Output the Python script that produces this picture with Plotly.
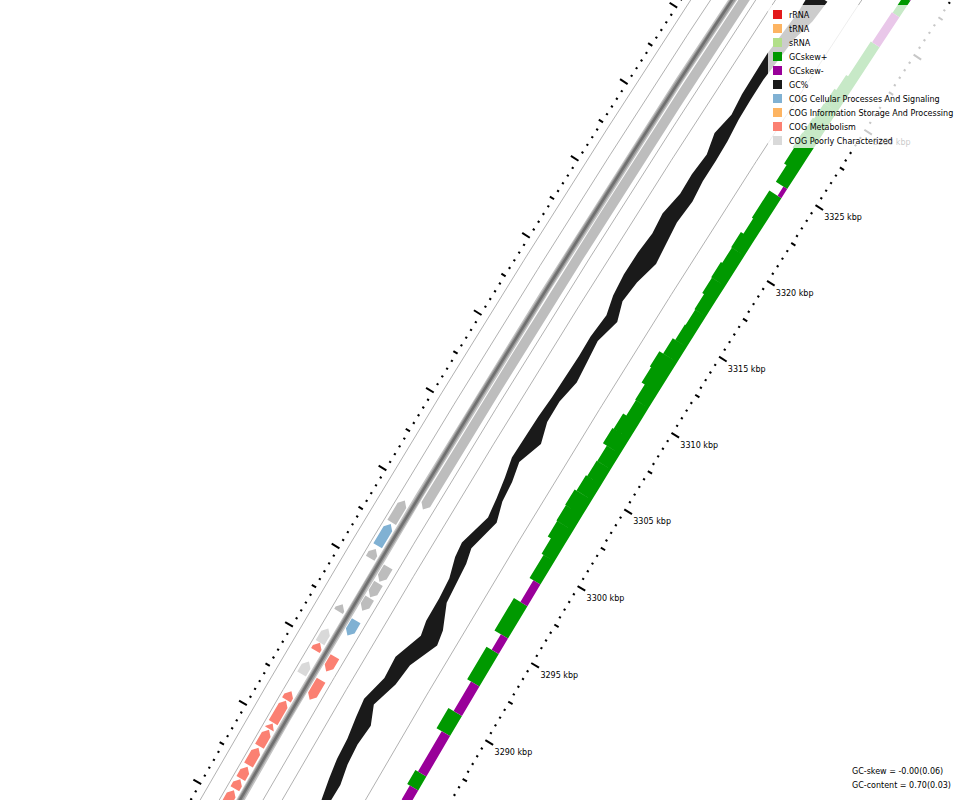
import numpy as np
import plotly.graph_objects as go

# ---------------- data ----------------
# ruler (kbp)
label_kbp = [3290, 3295, 3300, 3305, 3310, 3315, 3320, 3325, 3330]
label_text = ["3290 kbp", "3295 kbp", "3300 kbp", "3305 kbp", "3310 kbp",
              "3315 kbp", "3320 kbp", "3325 kbp", "3330 kbp"]
MAJOR_STEP, MID_STEP, MINOR_STEP = 5.0, 2.5, 0.5
RULER_FROM, RULER_TO = 3270.0, 3345.0

# genes: start, end (kbp), strand, COG class
feat_start = [3279.3, 3280.7, 3281.35, 3282.2, 3283.4, 3284.5, 3284.9, 3286.35,
              3288.0, 3289.5, 3290.0, 3292.0, 3295.4, 3296.2, 3297.7,
              3287.0, 3288.8, 3291.1, 3292.7, 3293.55, 3294.55, 3299.2]
feat_end = [3280.6, 3281.3, 3282.1, 3283.3, 3284.45, 3284.85, 3286.3, 3286.9,
            3288.8, 3290.0, 3290.9, 3292.45, 3296.0, 3297.6, 3299.1,
            3288.25, 3289.75, 3292.05, 3293.5, 3294.45, 3295.5, 3345.0]
feat_strand = [1, 1, 1, 1, 1, 1, 1, 1, 1, 1, 1, 1, 1, 1, 1,
               -1, -1, -1, -1, -1, -1, -1]
feat_cog = ["M", "M", "M", "M", "M", "M", "M", "M",
            "S", "M", "S", "-", "-", "C", "-",
            "M", "M", "C", "-", "-", "-", "-"]

# GC content (fraction): position (kbp), window max, window min
gc_pos = [3282.56, 3283.79, 3284.96, 3286.20, 3287.47, 3288.57, 3290.13, 3291.45,
          3293.16, 3294.03, 3295.46, 3296.70, 3297.87, 3298.75, 3300.68, 3301.84,
          3303.05, 3304.20, 3305.67, 3306.89, 3308.21, 3309.61, 3310.90, 3312.17,
          3313.63, 3314.75, 3316.06, 3317.49, 3318.80, 3320.04, 3321.48, 3322.74,
          3324.10, 3325.33, 3326.68, 3327.95, 3329.26, 3330.62, 3332.01, 3333.47,
          3334.81]
gc_max = [0.708, 0.725, 0.738, 0.743, 0.757, 0.767, 0.738, 0.743, 0.697, 0.710,
          0.711, 0.718, 0.743, 0.750, 0.711, 0.722, 0.737, 0.756, 0.753, 0.751,
          0.745, 0.743, 0.740, 0.742, 0.733, 0.753, 0.762, 0.761, 0.753, 0.762,
          0.744, 0.747, 0.739, 0.760, 0.742, 0.752, 0.755, 0.756, 0.749, 0.743,
          0.747]
gc_min = [0.673, 0.671, 0.688, 0.694, 0.686, 0.720, 0.684, 0.673, 0.618, 0.629,
          0.675, 0.682, 0.689, 0.704, 0.669, 0.694, 0.702, 0.720, 0.682, 0.708,
          0.709, 0.690, 0.698, 0.707, 0.680, 0.707, 0.698, 0.672, 0.682, 0.691,
          0.683, 0.693, 0.693, 0.696, 0.706, 0.709, 0.710, 0.703, 0.696, 0.672,
          0.665]
GC_MEAN = 0.70

# GC skew windows: start, end (kbp), value
sk_start = [3283.5, 3284.8, 3285.7, 3286.6, 3289.2, 3290.5, 3292.4, 3294.5, 3295.5,
            3297.6, 3299.0, 3300.5, 3301.5, 3302.5, 3303.5, 3304.5, 3305.5, 3306.5,
            3307.5, 3308.5, 3309.5, 3310.5, 3311.5, 3312.5, 3313.5, 3314.5, 3315.5,
            3316.5, 3317.5, 3318.5, 3319.5, 3320.5, 3321.5, 3322.5, 3324.3, 3324.9,
            3326.0, 3327.0, 3328.0, 3329.0, 3330.0, 3331.0, 3332.0, 3334.3, 3336.3,
            3337.4]
sk_end = sk_start[1:] + [3342.0]
sk_val = [-0.06, -0.065, 0.085, -0.065, 0.105, -0.065, 0.095, -0.055, 0.105,
          -0.055, 0.085, 0.10, 0.125, 0.13, 0.135, 0.12, 0.11, 0.105,
          0.135, 0.125, 0.10, 0.105, 0.13, 0.14, 0.11, 0.09, 0.085,
          0.09, 0.105, 0.11, 0.10, 0.105, 0.085, 0.095, -0.03, 0.09,
          0.11, 0.12, 0.115, 0.105, 0.10, 0.085, 0.07, -0.06, 0.055,
          -0.05]

legend_labels = ["rRNA", "tRNA", "sRNA", "GCskew+", "GCskew-", "GC%",
                 "COG Cellular Processes And Signaling",
                 "COG Information Storage And Processing",
                 "COG Metabolism", "COG Poorly Characterized"]
legend_colors = ["#e31a1c", "#fdb462", "#b2df8a", "#009900", "#990099", "#1a1a1a",
                 "#80b1d3", "#fdb462", "#fb8072", "#d9d9d9"]
stats_text = ["GC-skew = -0.00(0.06)", "GC-content = 0.70(0.03)"]

COG_COLOR = {"C": "#80b1d3", "K": "#fdb462", "M": "#fb8072", "S": "#d9d9d9", "-": "#bdbdbd"}
SKEW_POS, SKEW_NEG, GC_COLOR = "#009900", "#990099", "#1a1a1a"

# ---------------- map geometry ----------------
R0 = 16000.0            # radius of the inner ruler (px)
PX_PER_KBP = 17.96
P_MID = 3307.5
MX, MY = 652.4, 473.9
NX, NY = 0.851, 0.525   # unit vector pointing to the map centre
CX, CY = MX + R0 * NX, MY + R0 * NY
PHI_M = np.arctan2(-NY, -NX)

D_RULER_OUT = -228.5
D_LINE = [-220.5, -204.0, -166.0, -149.5, -77.5]
D_FWD = (-201.0, -191.0)
D_BACKBONE = -186.0
D_REV = (-181.0, -171.0)
D_GC_BASE, GC_SCALE = -113.5, 240.0
D_SKEW_BASE, SKEW_SCALE = -36.5, 150.0
D_RULER_IN = -3.0


def proj(p, d):
    p = np.asarray(p, float)
    d = np.asarray(d, float)
    phi = PHI_M + (p - P_MID) * PX_PER_KBP / R0
    rho = R0 - d
    return CX + rho * np.cos(phi), CY + rho * np.sin(phi)


def join(polys):
    xs, ys = [], []
    for x, y in polys:
        xs += list(x) + [None]
        ys += list(y) + [None]
    return xs, ys


def band(p1, p2, d_a, d_b):
    n = max(2, int(abs(p2 - p1) / 0.5) + 2)
    ps = np.linspace(p1, p2, n)
    P = np.concatenate([ps, ps[::-1], ps[:1]])
    D = np.concatenate([np.full(n, d_a), np.full(n, d_b), [d_a]])
    return proj(P, D)


AH = 5.5 / PX_PER_KBP


def arrow(p1, p2, strand, d_out, d_in):
    dm = 0.5 * (d_out + d_in)
    ah = min(AH, p2 - p1)
    if strand > 0:
        q1, q2 = p1, p2 - ah
        n = max(2, int((q2 - q1) / 0.5) + 2)
        body = np.linspace(q1, q2, n)
        P = list(body) + [p2] + list(body[::-1]) + [body[0]]
        D = [d_out] * n + [dm] + [d_in] * n + [d_out]
    else:
        q1, q2 = p1 + ah, p2
        n = max(2, int((q2 - q1) / 0.5) + 2)
        body = np.linspace(q1, q2, n)
        P = [p1] + list(body) + list(body[::-1]) + [p1]
        D = [dm] + [d_out] * n + [d_in] * n + [dm]
    return proj(P, D)


fig = go.Figure()


def add_fill(polys, color):
    xs, ys = join(polys)
    fig.add_trace(go.Scatter(x=xs, y=ys, mode="lines", fill="toself", fillcolor=color,
                             line=dict(width=0, color=color), hoverinfo="skip"))


def add_lines(polys, color, width):
    xs, ys = join(polys)
    fig.add_trace(go.Scatter(x=xs, y=ys, mode="lines", line=dict(color=color, width=width),
                             hoverinfo="skip"))


P_LINE = np.arange(RULER_FROM, RULER_TO + 0.01, 0.25)

# slot boundary lines
add_lines([proj(P_LINE, np.full_like(P_LINE, d)) for d in D_LINE], "#a8a8a8", 0.9)

# rulers
minor = np.arange(RULER_FROM, RULER_TO + 0.01, MINOR_STEP)
is_major = np.isclose(np.mod(minor, MAJOR_STEP), 0) | np.isclose(np.mod(minor, MAJOR_STEP), MAJOR_STEP)
is_mid = (~is_major) & (np.isclose(np.mod(minor, MID_STEP), 0) | np.isclose(np.mod(minor, MID_STEP), MID_STEP))
segs = []
for p, mj, md in zip(minor, is_major, is_mid):
    # outer ruler: ticks point outward
    if mj:
        a, b = D_RULER_OUT + 1.0, D_RULER_OUT - 8.0
    elif md:
        a, b = D_RULER_OUT + 1.0, D_RULER_OUT - 4.0
    else:
        a, b = D_RULER_OUT + 1.0, D_RULER_OUT - 1.2
    segs.append(proj([p, p], [a, b]))
    # inner ruler: ticks point inward
    if mj:
        a, b = D_RULER_IN - 1.0, D_RULER_IN + 8.0
    elif md:
        a, b = D_RULER_IN - 1.0, D_RULER_IN + 4.0
    else:
        a, b = D_RULER_IN - 1.0, D_RULER_IN + 1.2
    segs.append(proj([p, p], [a, b]))
add_lines(segs, "#000000", 2.0)

# backbone (shaded tube)
for w, c in [(7.5, "#c4c4c4"), (5.0, "#9a9a9a"), (2.5, "#707070")]:
    add_lines([proj(P_LINE, np.full_like(P_LINE, D_BACKBONE))], c, w)

# genes
by_color = {}
for s, e, st, cog in zip(feat_start, feat_end, feat_strand, feat_cog):
    d_out, d_in = D_FWD if st > 0 else D_REV
    by_color.setdefault(COG_COLOR[cog], []).append(arrow(s, e, st, d_out, d_in))
for c, polys in by_color.items():
    add_fill(polys, c)

# GC content band
gp = np.array(gc_pos)
d_hi = D_GC_BASE - (np.array(gc_max) - GC_MEAN) * GC_SCALE
d_lo = D_GC_BASE - (np.array(gc_min) - GC_MEAN) * GC_SCALE
P = np.concatenate([gp, gp[::-1], gp[:1]])
D = np.concatenate([d_hi, d_lo[::-1], d_hi[:1]])
add_fill([proj(P, D)], GC_COLOR)

# GC skew bars
pos_polys, neg_polys = [], []
for s, e, v in zip(sk_start, sk_end, sk_val):
    h = abs(v) * SKEW_SCALE
    poly = band(s, e, D_SKEW_BASE, D_SKEW_BASE - h)
    (pos_polys if v >= 0 else neg_polys).append(poly)
add_fill(pos_polys, SKEW_POS)
add_fill(neg_polys, SKEW_NEG)

# ruler labels
lx, ly = proj(np.array(label_kbp, float) - 0.36, np.full(len(label_kbp), 10.5))
fig.add_trace(go.Scatter(x=lx, y=ly, mode="text", text=label_text, textposition="middle right",
                         textfont=dict(family="DejaVu Sans", size=8, color="#000000"),
                         hoverinfo="skip"))

# legend (semi-transparent box drawn above the map)
shapes = [dict(type="rect", xref="x", yref="y", x0=768, x1=961, y0=5, y1=148,
               fillcolor="rgba(255,255,255,0.78)", line=dict(width=0), layer="above")]
annotations = []
for i, (lab, col) in enumerate(zip(legend_labels, legend_colors)):
    yc = 14.5 + 14 * i
    shapes.append(dict(type="rect", xref="x", yref="y", x0=773, x1=782, y0=yc - 4.5, y1=yc + 4.5,
                       fillcolor=col, line=dict(width=0), layer="above"))
    annotations.append(dict(x=787, y=yc + 0.5, xref="x", yref="y", text=lab, showarrow=False,
                            xanchor="left", yanchor="middle",
                            font=dict(family="DejaVu Sans", size=8, color="#000000")))
for i, t in enumerate(stats_text):
    annotations.append(dict(x=850, y=771 + 14 * i, xref="x", yref="y", text=t, showarrow=False,
                            xanchor="left", yanchor="middle",
                            font=dict(family="DejaVu Sans", size=8, color="#000000")))

fig.update_layout(width=960, height=800, margin=dict(l=0, r=0, t=0, b=0),
                  paper_bgcolor="white", plot_bgcolor="white", showlegend=False,
                  xaxis=dict(range=[0, 960], visible=False, fixedrange=True),
                  yaxis=dict(range=[800, 0], visible=False, fixedrange=True),
                  shapes=shapes, annotations=annotations)

fig.write_html("out.html", config={"displayModeBar": False, "staticPlot": True},
               post_script="document.body.style.margin='0';document.body.style.overflow='hidden';")
